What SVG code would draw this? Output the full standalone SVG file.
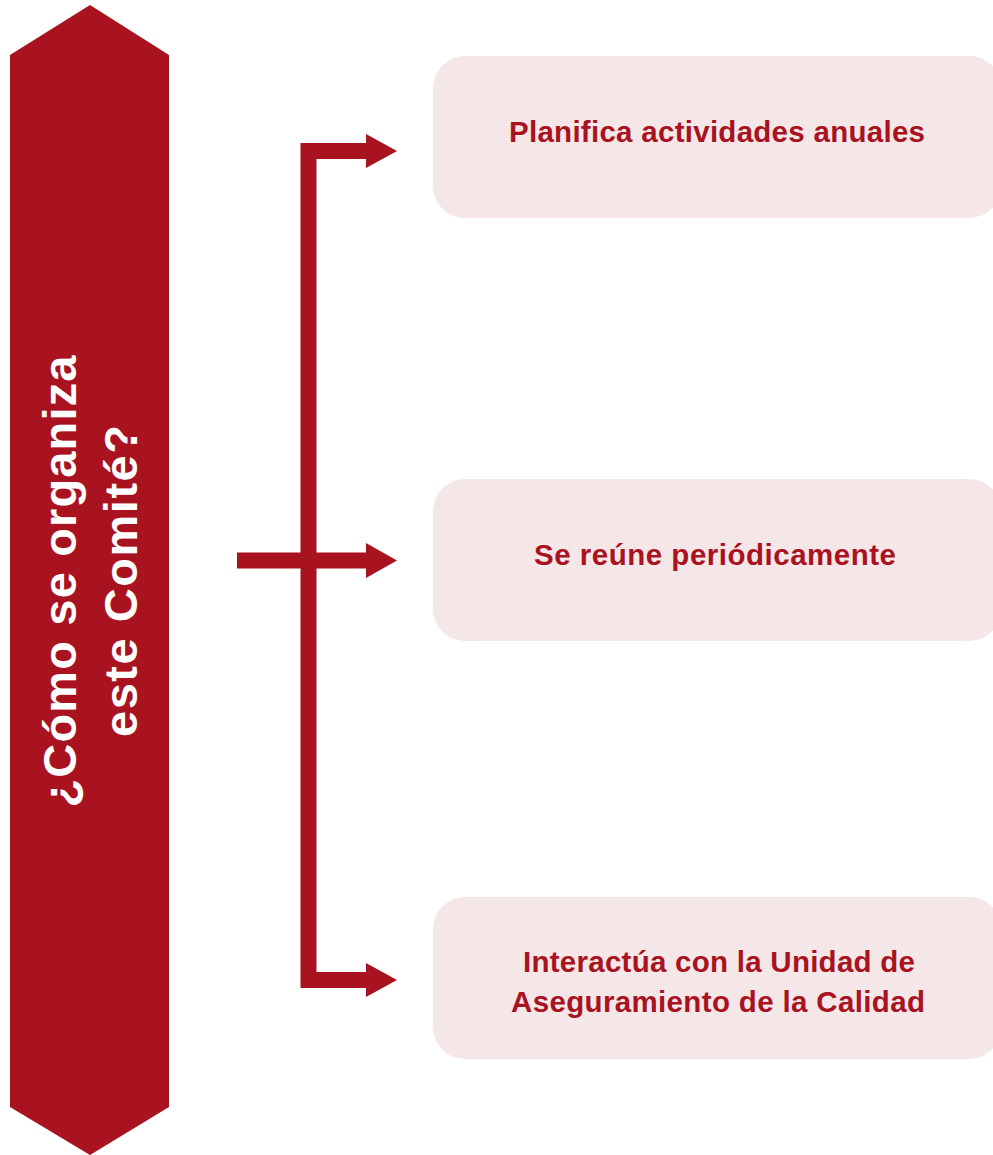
<svg xmlns="http://www.w3.org/2000/svg" width="993" height="1155" viewBox="0 0 993 1155">
  <style>
    .bar{fill:none;stroke:#a8131f;stroke-width:16;stroke-linejoin:miter;stroke-linecap:butt}
    .head{fill:#a8131f}
    .box{fill:#f5e6e8}
    .lbl{font-family:"Liberation Sans",Arial,sans-serif;font-weight:bold;font-size:29.5px;fill:#a8131f;text-anchor:middle}
    .title{font-family:"Liberation Sans",Arial,sans-serif;font-weight:bold;font-size:47px;fill:#ffffff;text-anchor:middle}
  </style>
  <rect width="993" height="1155" fill="#ffffff"/>
  <g id="title">
    <polygon points="10,55 90,5 169,55 169,1107 90,1155 10,1107" fill="#a8131f"/>
    <text class="title" transform="translate(76,581.5) rotate(-90)" textLength="452" lengthAdjust="spacing">¿Cómo se organiza</text>
    <text class="title" transform="translate(137,581) rotate(-90)" textLength="312" lengthAdjust="spacing">este Comité?</text>
  </g>
  <g id="connectors">
    <polyline class="bar" points="367,151 308.5,151 308.5,980 367,980"/>
    <line class="bar" x1="237" y1="560.5" x2="367" y2="560.5"/>
    <polygon class="head" points="366,134 397,151 366,168"/>
    <polygon class="head" points="366,543 397,560.5 366,578"/>
    <polygon class="head" points="366,963 397,980 366,997"/>
  </g>
  <g id="node1">
    <rect class="box" x="433" y="56" width="568" height="162" rx="32"/>
    <text class="lbl" x="717" y="142" textLength="416" lengthAdjust="spacing">Planifica actividades anuales</text>
  </g>
  <g id="node2">
    <rect class="box" x="433" y="479" width="568" height="162" rx="32"/>
    <text class="lbl" x="715" y="565" textLength="362" lengthAdjust="spacing">Se reúne periódicamente</text>
  </g>
  <g id="node3">
    <rect class="box" x="433" y="897" width="568" height="162" rx="32"/>
    <text class="lbl" x="719" y="972" textLength="392" lengthAdjust="spacing">Interactúa con la Unidad de</text>
    <text class="lbl" x="718" y="1012" textLength="414" lengthAdjust="spacing">Aseguramiento de la Calidad</text>
  </g>
</svg>
